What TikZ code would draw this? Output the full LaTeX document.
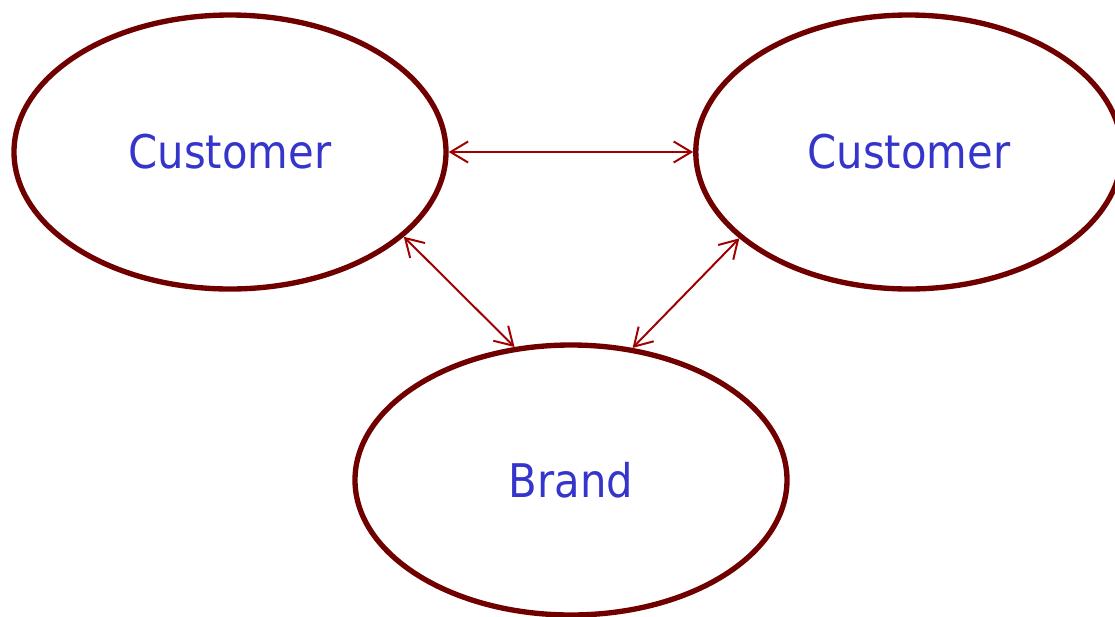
\documentclass[tikz,border=0pt]{standalone}
\usepackage{fontspec}
\setmainfont{DejaVu Sans Condensed}
\usepackage{xcolor}
\usetikzlibrary{shapes.geometric,arrows.meta}
\definecolor{rimred}{HTML}{700000}
\definecolor{linkred}{HTML}{A00000}
\definecolor{textblue}{HTML}{3535CC}
\tikzset{
  party/.style={ellipse, draw=rimred, line width=3.8pt, inner sep=0pt,
    text=textblue, font=\fontsize{33}{37}\selectfont},
  link/.style={linkred, line width=1.4pt,
    {Straight Barb[length=12.5pt,width=15pt]}-{Straight Barb[length=12.5pt,width=15pt]}}
}

\begin{document}
\begin{tikzpicture}
\useasboundingbox (0,0) rectangle (27.875,-15.4);
% эллипсы
\node [party, minimum width=10.8cm, minimum height=6.85cm] (left) at (5.75,-3.8) {Customer};
\node [party, minimum width=10.65cm, minimum height=6.85cm] (right) at (22.72,-3.8) {Customer};
\node [party, minimum width=10.8cm, minimum height=6.75cm] (brand) at (14.275,-12.0) {Brand};
% связи
\draw [link] (left.east) -- (right.west);
\draw [link] (left.-26) -- (brand.113);
\draw [link] (right.207) -- (brand.65);
\end{tikzpicture}
\end{document}
